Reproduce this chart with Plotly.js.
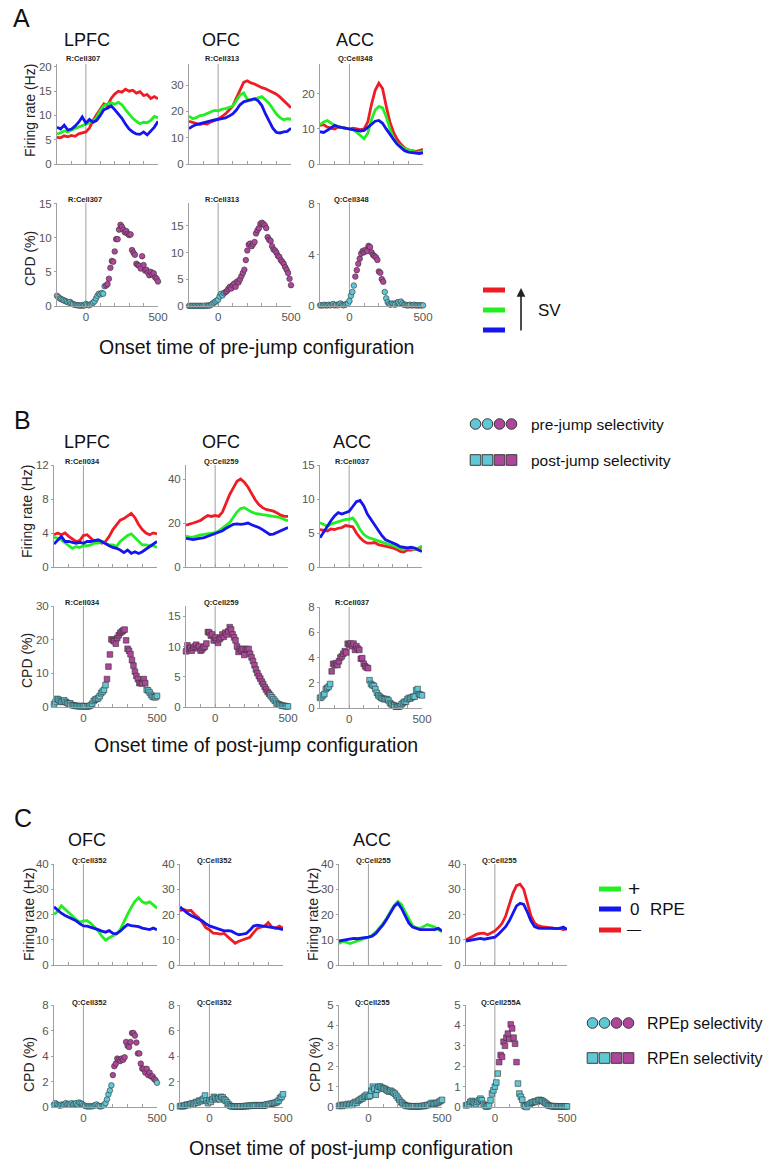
<!DOCTYPE html>
<html><head><meta charset="utf-8">
<script src="https://cdn.plot.ly/plotly-3.0.1.min.js"></script>
<style>html,body{margin:0;padding:0;background:#fff;}#chart{width:766px;height:1163px;}</style>
</head><body><div id="chart"></div>
<script>
// ---------------- DATA ----------------
const tFR = [-200,-175,-150,-125,-100,-75,-50,-25,0,25,50,75,100,125,150,175,200,225,250,275,300,325,350,375,400,425,450,475,500];
const tCPD = [-200,-190,-180,-170,-160,-150,-140,-130,-120,-110,-100,-90,-80,-70,-60,-50,-40,-30,-20,-10,0,10,20,30,40,50,60,70,80,90,100,110,120,130,140,150,160,170,180,190,200,210,220,230,240,250,260,270,280,290,300,310,320,330,340,350,360,370,380,390,400,410,420,430,440,450,460,470,480,490,500];
const xTickVals = [-200,-100,0,100,200,300,400,500];
const xTickText = ['','','0','','','','','500'];

// Panel A firing rates (Hz)
const A_LPFC_red   = [5.5,5.4,5.8,5.6,5.9,5.7,6.2,6.4,6.6,7.4,9.0,10.2,11.2,12.4,12.0,13.5,14.4,15.0,14.8,15.4,15.0,15.2,14.6,14.9,14.1,14.3,13.5,13.9,13.4];
const A_LPFC_green = [6.2,6.4,6.8,6.6,7.0,7.3,7.6,7.9,8.2,8.4,8.8,9.6,11.0,12.0,12.4,12.6,12.3,12.7,12.2,11.2,10.2,9.4,8.8,8.3,8.6,8.5,9.0,9.8,9.5];
const A_LPFC_blue  = [7.6,7.2,8.0,7.0,7.2,7.8,8.6,9.7,8.4,9.2,8.6,9.0,10.0,11.2,11.5,12.0,11.2,10.3,9.4,8.2,7.2,6.6,6.2,6.1,6.6,6.0,6.8,7.6,8.8];
const A_OFC_red    = [16.2,15.8,15.5,15.0,15.4,15.2,16.0,16.4,17.0,18.0,19.0,20.5,22.0,25.0,28.0,31.0,31.6,30.8,30.4,29.6,29.0,28.6,28.0,27.4,26.5,25.4,24.0,22.4,21.4];
const A_OFC_green  = [18.2,17.2,17.6,18.4,18.6,19.2,19.6,20.4,20.2,20.8,21.0,21.4,22.0,24.0,26.2,27.0,24.6,24.2,24.6,25.0,25.6,24.4,23.0,21.0,19.0,17.6,16.8,17.2,17.0];
const A_OFC_blue   = [13.4,14.4,15.0,15.4,15.6,16.2,16.6,16.8,17.0,17.2,17.5,18.2,19.0,20.5,22.5,23.6,24.0,24.4,24.8,24.0,22.2,19.0,16.0,13.6,12.0,11.8,12.2,12.4,13.6];
const A_ACC_red    = [11.0,11.2,10.5,10.2,10.0,10.6,10.4,10.0,10.0,10.2,10.0,9.8,10.0,12.0,17.0,21.0,23.0,21.5,16.5,12.0,9.0,7.0,5.6,4.6,4.0,3.8,3.6,3.8,4.2];
const A_ACC_green  = [11.2,12.0,12.4,11.6,11.0,10.6,10.4,10.2,10.0,9.8,9.0,8.2,7.2,8.8,12.6,15.4,16.4,16.0,13.5,10.0,7.2,5.8,5.0,4.4,4.0,3.6,3.4,3.4,3.6];
const A_ACC_blue   = [9.2,9.0,9.6,10.2,11.0,10.6,10.4,10.2,10.0,9.8,9.6,9.4,9.6,10.4,11.4,12.2,12.4,11.6,10.0,8.4,7.0,5.6,4.6,3.8,3.4,3.2,3.0,3.0,3.2];

// Panel B firing rates (Hz)
const B_LPFC_red   = [3.8,4.0,3.8,4.0,3.6,3.3,3.0,3.1,3.7,3.8,3.4,3.0,3.0,2.8,3.0,3.6,4.4,5.0,5.5,5.7,6.0,6.3,5.8,5.0,4.4,4.0,3.8,4.0,3.9];
const B_LPFC_green = [3.5,3.4,3.2,2.8,2.5,2.2,2.4,2.3,2.5,2.5,2.6,2.8,2.8,3.0,2.8,2.6,2.6,2.4,3.0,3.4,3.7,3.9,3.5,3.0,2.6,2.6,2.5,2.5,2.3];
const B_LPFC_blue  = [2.7,3.2,3.6,3.0,3.0,2.9,2.8,2.9,2.8,3.0,3.0,3.1,3.2,3.0,2.7,2.5,2.3,2.2,2.0,1.7,2.0,1.6,1.8,1.6,1.8,2.1,2.4,2.6,3.0];
const B_OFC_red    = [19.0,19.4,20.0,20.6,21.2,22.4,23.4,23.0,23.5,23.0,25.0,29.0,33.0,36.0,39.0,40.0,38.6,36.4,33.4,30.6,28.4,27.0,26.2,25.8,25.4,24.6,23.6,23.0,23.0];
const B_OFC_green  = [14.0,13.6,13.6,14.2,14.6,14.8,15.0,15.4,15.6,16.4,17.6,18.8,20.2,22.6,25.0,26.6,27.0,26.0,25.0,24.4,24.0,23.8,23.6,23.2,23.0,22.8,22.4,21.6,21.0];
const B_OFC_blue   = [13.0,12.6,12.5,12.8,13.0,13.4,14.0,14.6,15.0,15.6,16.5,17.6,18.6,19.4,19.6,19.4,19.6,20.0,19.2,18.6,18.0,17.0,16.0,14.8,15.0,15.8,16.6,17.4,18.0];
const B_ACC_red    = [5.5,5.4,5.3,5.6,5.5,5.7,5.8,6.1,6.0,5.9,5.0,4.3,3.8,3.5,3.5,3.6,3.3,3.2,3.0,2.9,2.8,2.6,2.3,2.2,2.5,2.5,2.6,2.7,3.0];
const B_ACC_green  = [6.5,6.2,6.0,6.3,6.5,6.6,6.8,7.0,7.0,7.2,6.5,5.5,4.8,4.4,4.2,4.0,3.8,3.6,3.5,3.3,3.2,2.9,2.7,2.6,2.8,2.7,2.6,2.8,3.1];
const B_ACC_blue   = [4.3,5.2,6.0,6.8,7.5,8.0,7.8,8.0,8.2,8.9,9.6,9.8,9.0,7.8,7.0,6.2,5.3,4.6,4.0,3.8,3.6,3.3,3.0,2.9,2.8,2.9,2.8,2.5,2.3];

// Panel C firing rates (Hz)
const C_OFC1_green = [20.0,21.2,23.5,22.0,20.5,19.4,18.0,17.0,17.5,17.6,16.5,15.2,13.5,11.4,9.8,10.8,11.5,12.2,14.0,17.2,20.0,22.8,25.2,26.6,25.0,24.4,25.0,23.8,22.5];
const C_OFC1_blue  = [23.0,21.6,20.5,19.6,19.0,18.2,17.5,16.4,15.5,15.4,15.0,14.4,14.0,13.4,13.0,13.6,12.5,12.4,13.4,14.8,16.0,15.6,15.4,15.2,14.6,14.2,14.0,14.6,14.0];
const C_OFC2_red   = [21.5,22.0,21.5,21.6,20.0,18.8,17.0,14.8,14.0,12.6,12.5,12.2,12.5,11.2,9.6,8.6,9.4,10.0,10.6,11.0,12.8,14.5,15.0,15.4,16.8,15.0,14.6,15.4,14.6];
const C_OFC2_blue  = [23.0,21.6,20.5,19.6,19.0,18.2,17.5,16.4,15.5,15.0,14.5,14.0,13.5,13.6,13.4,12.6,12.0,12.2,12.5,13.8,15.4,15.8,15.6,15.2,15.0,14.8,14.5,14.4,14.0];
const C_ACC1_green = [8.5,9.4,9.0,8.5,9.0,9.6,10.0,10.5,11.0,11.8,13.0,14.6,16.5,18.6,21.0,23.6,25.2,24.0,21.0,18.0,15.6,14.8,14.5,15.2,16.0,15.5,15.0,14.0,13.2];
const C_ACC1_blue  = [9.5,9.8,10.0,10.2,10.5,10.4,10.5,10.8,11.0,11.4,12.5,14.2,16.0,18.2,20.5,23.2,24.5,22.4,19.5,16.6,15.0,14.5,14.0,14.0,14.0,14.2,14.0,14.5,13.5];
const C_ACC2_red   = [10.0,10.8,11.5,12.2,12.5,12.6,12.0,12.6,13.5,14.8,16.5,19.4,24.0,28.4,31.4,32.0,30.0,25.0,19.5,16.6,15.6,15.2,15.0,15.0,14.6,14.4,14.6,14.0,14.5];
const C_ACC2_blue  = [9.5,9.8,10.0,10.4,10.5,10.2,10.5,10.6,11.0,12.2,13.5,15.2,17.5,20.4,23.4,24.4,24.0,21.0,17.5,15.2,14.6,14.5,14.4,14.5,14.6,14.4,14.5,15.0,14.0];

// CPD (%) series, 10 ms bins
const A_LPFC_cpd = [1.5,1.3,1.1,1.0,0.9,0.8,0.7,0.6,0.5,0.6, 0.4,0.3,0.2,0.15,0.1,0.1,0.05,0.1,0.05,0.1, 0.3,0.2,0.1,0.2,0.3,0.5,0.7,1.1,1.5,1.8, 1.7,1.9,1.8,2.9,3.0,3.2,4.0,5.6,6.6,6.5, 8.0,9.8,9.8,11.2,11.9,11.6,11.2,10.8,11.0,10.6, 10.4,10.5,8.2,7.8,7.5,6.2,6.0,5.9,5.5,7.3, 6.0,5.2,5.3,4.9,4.5,5.0,4.6,4.8,4.2,4.0, 3.6];
const A_OFC_cpd  = [0.02,0.03,0.02,0.02,0.03,0.02,0.02,0.03,0.02,0.02, 0.03,0.05,0.05,0.08,0.1,0.2,0.4,0.6,0.8,1.0, 1.2,1.8,2.3,2.0,2.4,2.6,2.8,3.2,3.6,3.3, 3.9,4.2,3.6,4.6,4.4,5.0,5.6,6.2,6.8,8.6, 10.4,11.5,11.7,11.2,11.6,12.0,13.6,14.2,14.6,15.4, 15.6,15.4,15.1,14.6,12.9,12.4,12.2,11.2,10.6,10.4, 10.0,9.4,9.2,8.6,8.3,7.9,7.3,6.8,6.2,5.1, 3.9];
const A_ACC_cpd  = [0.05,0.05,0.05,0.1,0.05,0.05,0.1,0.05,0.1,0.15, 0.05,0.1,0.05,0.15,0.2,0.1,0.05,0.1,0.15,0.2, 0.4,0.8,1.1,1.6,2.3,2.8,3.3,3.7,4.1,4.3, 4.2,4.4,4.3,4.7,4.6,4.2,4.0,3.9,3.8,3.6, 2.7,2.6,2.1,1.9,1.1,0.6,0.3,0.15,0.1,0.2, 0.15,0.1,0.25,0.3,0.2,0.35,0.2,0.1,0.1,0.05, 0.05,0.1,0.05,0.05,0.1,0.05,0.05,0.05,0.05,0.05, 0.05];
const B_LPFC_cpd = [0.8,1.5,2.4,2.2,1.8,1.5,1.6,2.0,1.5,1.2, 1.0,1.1,0.6,0.5,0.4,0.3,0.3,0.2,0.3,0.2, 0.3,0.2,0.1,0.2,0.3,0.5,1.0,1.8,2.2,2.4, 2.6,3.2,4.1,4.6,5.1,6.5,8.3,12.0,15.6,20.1, 19.8,19.5,18.8,20.5,21.3,22.0,22.4,22.7,23.0,19.8, 17.3,16.7,15.7,13.9,12.3,10.5,9.2,8.3,7.1,7.1, 7.0,8.3,7.1,5.1,4.9,4.3,3.6,3.1,2.9,2.9, 3.3];
const B_OFC_cpd  = [9.2,10.2,9.6,9.8,9.3,9.8,10.0,10.3,9.7,10.0, 9.3,9.5,9.8,10.0,10.5,12.4,12.3,11.8,12.0,11.0, 11.5,11.0,10.6,11.2,11.5,12.0,11.6,12.3,12.0,12.5, 13.2,12.8,12.0,11.5,11.0,10.0,9.1,9.6,9.3,9.6, 8.6,9.6,9.5,9.6,8.8,8.2,7.6,6.9,6.2,5.6, 5.1,4.7,4.2,3.8,3.3,2.9,2.5,2.2,1.9,1.6, 1.3,1.0,0.7,0.5,0.4,0.3,0.2,0.2,0.15,0.1, 0.1];
const B_ACC_cpd  = [0.8,0.85,1.0,1.1,1.5,1.6,1.7,1.9,2.9,3.5, 3.4,3.55,3.4,3.7,4.0,4.1,4.3,4.5,4.4,5.1, 5.0,5.1,4.9,5.1,4.6,4.9,4.7,4.6,3.9,3.95, 3.5,3.3,3.2,3.15,2.2,1.9,1.8,1.75,1.5,1.2, 1.0,0.9,0.8,0.75,0.7,0.7,0.7,0.6,0.4,0.3, 0.2,0.2,0.1,0.1,0.1,0.15,0.3,0.4,0.5,0.5, 0.7,0.8,0.75,0.85,0.9,0.9,1.4,1.5,1.1,1.05, 1.0];
const C_OFC1_cpd = [0.2,0.3,0.2,0.15,0.1,0.2,0.15,0.2,0.3,0.2, 0.25,0.2,0.3,0.2,0.25,0.3,0.2,0.35,0.3,0.25, 0.15,0.1,0.05,0.05,0.05,0.05,0.05,0.1,0.15,0.2, 0.1,0.05,0.05,0.1,0.15,0.3,0.6,1.0,1.3,1.7, 2.5,3.2,3.4,3.8,3.7,3.6,3.8,3.7,3.9,5.1, 4.8,4.7,5.1,5.8,5.8,5.6,5.05,4.2,4.2,3.4, 3.0,3.0,2.7,3.0,2.5,2.7,2.4,2.4,2.2,2.1, 1.9];
const C_OFC2_cpd = [0.05,0.1,0.05,0.1,0.15,0.2,0.15,0.2,0.3,0.2, 0.3,0.4,0.35,0.5,0.45,0.55,0.65,0.9,0.5,0.3, 0.5,0.4,0.6,0.8,0.7,0.6,0.7,0.6,0.8,0.75, 0.6,0.5,0.35,0.2,0.1,0.05,0.05,0.03,0.05,0.03, 0.05,0.03,0.05,0.05,0.08,0.05,0.1,0.08,0.1,0.12, 0.1,0.15,0.1,0.12,0.1,0.15,0.12,0.1,0.15,0.2, 0.2,0.25,0.25,0.3,0.3,0.35,0.4,0.5,0.7,0.8, 1.0];
const C_ACC1_cpd = [0.05,0.1,0.05,0.1,0.1,0.1,0.15,0.1,0.15,0.1, 0.2,0.25,0.2,0.3,0.35,0.4,0.42,0.5,0.55,0.6, 0.5,0.55,0.8,1.0,0.9,0.6,0.85,1.0,1.0,0.95, 0.9,0.9,0.85,0.8,0.75,0.8,0.75,0.7,0.65,0.55, 0.45,0.35,0.25,0.2,0.12,0.08,0.05,0.05,0.04,0.03, 0.03,0.04,0.03,0.03,0.04,0.03,0.05,0.05,0.05,0.08, 0.1,0.1,0.15,0.2,0.15,0.15,0.2,0.2,0.25,0.3, 0.35];
const C_ACC2_cpd = [0.08,0.1,0.13,0.25,0.3,0.25,0.2,0.13,0.25,0.33, 0.41,0.33,0.15,0.08,0.02,0.03,0.08,0.33,0.66,0.82, 1.0,1.2,1.64,2.2,2.55,2.46,3.2,3.0,3.4,3.6, 3.33,4.05,3.85,3.4,3.1,2.2,1.15,0.66,0.5,0.36, 0.08,0.03,0.0,0.1,0.13,0.2,0.22,0.25,0.28,0.25, 0.33,0.35,0.33,0.3,0.25,0.2,0.15,0.08,0.06,0.05, 0.03,0.03,0.04,0.03,0.03,0.03,0.03,0.02,0.03,0.02, 0.03];

// significant windows [start, end] in ms (null = none)
const A_LPFC_sig = [140, 500], A_OFC_sig = [50, 500], A_ACC_sig = [40, 230];
const B_LPFC_sig = [160, 420], B_OFC_sig = [-200, 370], B_ACC_sig = [-120, 130];
const C_OFC1_sig = [200, 490], C_OFC2_sig = null, C_ACC1_sig = null, C_ACC2_sig = [30, 150];

const cellLabels = ['R:Cell307','R:Cell313','Q:Cell348','R:Cell307','R:Cell313','Q:Cell348',
  'R:Cell034','Q:Cell259','R:Cell037','R:Cell034','Q:Cell259','R:Cell037',
  'Q:Cell352','Q:Cell352','Q:Cell255','Q:Cell255','Q:Cell352','Q:Cell352','Q:Cell255','Q:Cell255A'];

// ---------------- STYLE ----------------
const RED='#ee1d25', GREEN='#22ee22', BLUE='#1515ee';
const CYAN='#5fc7d6', MAG='#b0469c';
const FONT='Liberation Sans, Arial, sans-serif';
const W=766, H=1163;
const px = x => x/W, py = y => 1 - y/H;

// subplot geometry: [xl, xr, ytop, ybot, ymax, dtick, showXLabels, cellLabelX, cellLabelY]
const geo = [
  [57,158,64,164,20.6,5,false,83,59],
  [189,291,64,164,38,10,false,222,59],
  [320,423,64,164,28.5,10,false,355,59],
  [57,158,203,306,15.1,5,true,85,200],
  [189,291,203,306,19.3,5,true,222,200],
  [320,423,203,306,8.05,4,true,351,200],
  [54,157,465,567,12,4,false,82,461],
  [186,288,465,567,46.4,20,false,221,461],
  [320,422,465,567,15,5,false,352,461],
  [54,157,606,707,30,10,true,82,602],
  [186,288,606,707,16.7,5,true,221,602],
  [320,422,607,708,8,2,true,352,602],
  [54,157,864,965,40,10,false,89,860],
  [180,283,864,965,40,10,false,214,860],
  [339,442,864,965,40,10,false,373,860],
  [466,567,864,965,40,10,false,499,860],
  [54,157,1005,1107,8,2,true,89,1002],
  [180,283,1005,1107,8,2,true,214,1002],
  [339,442,1005,1107,5,1,true,372,1002],
  [466,567,1005,1107,5,1,true,501,1002]
];

const frSets = {
  0:[[A_LPFC_red,RED],[A_LPFC_green,GREEN],[A_LPFC_blue,BLUE]],
  1:[[A_OFC_red,RED],[A_OFC_green,GREEN],[A_OFC_blue,BLUE]],
  2:[[A_ACC_red,RED],[A_ACC_green,GREEN],[A_ACC_blue,BLUE]],
  6:[[B_LPFC_red,RED],[B_LPFC_green,GREEN],[B_LPFC_blue,BLUE]],
  7:[[B_OFC_red,RED],[B_OFC_green,GREEN],[B_OFC_blue,BLUE]],
  8:[[B_ACC_red,RED],[B_ACC_green,GREEN],[B_ACC_blue,BLUE]],
  12:[[C_OFC1_green,GREEN],[C_OFC1_blue,BLUE]],
  13:[[C_OFC2_red,RED],[C_OFC2_blue,BLUE]],
  14:[[C_ACC1_green,GREEN],[C_ACC1_blue,BLUE]],
  15:[[C_ACC2_red,RED],[C_ACC2_blue,BLUE]]
};
const cpdSets = {
  3:[A_LPFC_cpd,A_LPFC_sig,'circle'],
  4:[A_OFC_cpd,A_OFC_sig,'circle'],
  5:[A_ACC_cpd,A_ACC_sig,'circle'],
  9:[B_LPFC_cpd,B_LPFC_sig,'square'],
  10:[B_OFC_cpd,B_OFC_sig,'square'],
  11:[B_ACC_cpd,B_ACC_sig,'square'],
  16:[C_OFC1_cpd,C_OFC1_sig,'circle'],
  17:[C_OFC2_cpd,C_OFC2_sig,'square'],
  18:[C_ACC1_cpd,C_ACC1_sig,'square'],
  19:[C_ACC2_cpd,C_ACC2_sig,'square']
};

const traces = [];
const layout = {
  width: W, height: H, margin:{l:0,r:0,t:0,b:0},
  paper_bgcolor:'#fff', plot_bgcolor:'rgba(0,0,0,0)',
  showlegend:false, hovermode:false,
  font:{family:FONT, color:'#222'},
  shapes:[], annotations:[]
};

geo.forEach((g,i) => {
  const n = i===0 ? '' : String(i+1);
  const [xl,xr,yt,yb,ymax,dt,lab,cx,cy] = g;
  layout['xaxis'+n] = {
    domain:[px(xl),px(xr)], range:[-200,500], anchor:'y'+n,
    showline:true, linecolor:'#a0a0a0', linewidth:1,
    tickvals:xTickVals, ticktext: lab ? xTickText : xTickVals.map(()=> ''),
    ticks:'inside', ticklen:3, tickcolor:'#a0a0a0', tickwidth:1,
    tickfont:{size:11.5, color:'#555', family:FONT},
    showgrid:false, zeroline:false, fixedrange:true
  };
  layout['yaxis'+n] = {
    domain:[py(yb),py(yt)], range:[0,ymax], anchor:'x'+n,
    showline:true, linecolor:'#a0a0a0', linewidth:1,
    tick0:0, dtick:dt, ticks:'outside', ticklen:2, tickcolor:'#a0a0a0',
    tickfont:{size:11.5, color:'#555', family:FONT},
    showgrid:false, zeroline:false, fixedrange:true
  };
  layout.shapes.push({type:'line', xref:'x'+n, yref:'y'+n+' domain', x0:0, x1:0, y0:0, y1:1,
    line:{color:'#a0a0a0', width:1}, layer:'below'});
  layout.annotations.push({text:'<b>'+cellLabels[i]+'</b>', x:px(cx), y:py(cy), xref:'paper', yref:'paper',
    showarrow:false, xanchor:'center', yanchor:'middle', font:{size:7.5, color:'#222', family:FONT}});
  if (frSets[i]) {
    frSets[i].forEach(([y,c]) => traces.push({type:'scatter', mode:'lines', x:tFR, y:y,
      xaxis:'x'+n, yaxis:'y'+n, line:{color:c, width:2.8}, cliponaxis:false, hoverinfo:'skip'}));
  }
  if (cpdSets[i]) {
    const [y,sig,sym] = cpdSets[i];
    const cols = tCPD.map(t => (sig && t>=sig[0] && t<=sig[1]) ? MAG : CYAN);
    traces.push({type:'scatter', mode:'markers', x:tCPD, y:y, xaxis:'x'+n, yaxis:'y'+n,
      marker:{symbol:sym, size:5.6, color:cols, line:{color:'#333', width:0.6}},
      cliponaxis:false, hoverinfo:'skip'});
  }
});

function ann(text,x,y,size,o){
  layout.annotations.push(Object.assign({text:text, x:px(x), y:py(y), xref:'paper', yref:'paper',
    showarrow:false, xanchor:'center', yanchor:'middle', font:{size:size, color:'#111', family:FONT}}, o||{}));
}
// panel letters
ann('A',21,18,25); ann('B',22,420,25); ann('C',23,818,25);
// region titles
ann('LPFC',87,40,18); ann('OFC',221,40,18); ann('ACC',355,40,18);
ann('LPFC',87,442,18); ann('OFC',221,442,18); ann('ACC',352,442,18);
ann('OFC',87,840,18); ann('ACC',372,840,18);
// y titles
const yt = (t,x,y)=>ann(t,x,y,14,{textangle:-90, font:{size:14,color:'#222',family:FONT}});
yt('Firing rate (Hz)',30,111); yt('CPD (%)',30,259);
yt('Firing rate (Hz)',27,512); yt('CPD (%)',27,661);
yt('Firing rate (Hz)',29,915); yt('CPD (%)',29,1065);
yt('Firing rate (Hz)',313,915); yt('CPD (%)',315,1065);
// x titles
ann('Onset time of pre-jump configuration',256,347,19.5);
ann('Onset time of post-jump configuration',256,745,19.5);
ann('Onset time of post-jump configuration',351,1148,19.5);

// SV legend
[[RED,290],[GREEN,310],[BLUE,330]].forEach(([c,y]) => layout.shapes.push({type:'line', xref:'paper', yref:'paper',
  x0:px(483), x1:px(505), y0:py(y), y1:py(y), line:{color:c, width:5}}));
layout.annotations.push({text:'', x:px(521), y:py(288), xref:'paper', yref:'paper', showarrow:true,
  ax:0, ay:44, arrowhead:2, arrowsize:1.1, arrowwidth:1.6, arrowcolor:'#222'});
ann('SV',549,310,17);

// selectivity legends
function symRow(x0, y, sym){
  [CYAN,CYAN,MAG,MAG].forEach((c,k) => {
    const cx = x0 + k*12, r = 5.3;
    layout.shapes.push({type: sym==='circle' ? 'circle' : 'rect', xref:'paper', yref:'paper',
      x0:px(cx-r), x1:px(cx+r), y0:py(y+r), y1:py(y-r), fillcolor:c, line:{color:'#3a3a3a', width:1}});
  });
}
symRow(475.5,424,'circle'); ann('pre-jump selectivity',529,424,15.5,{xanchor:'left'});
symRow(475.5,460,'square'); ann('post-jump selectivity',529,460,15.5,{xanchor:'left'});
symRow(592.5,1023,'circle'); ann('RPEp selectivity',645,1023,16,{xanchor:'left'});
symRow(592.5,1058,'square'); ann('RPEn selectivity',645,1058,16,{xanchor:'left'});

// RPE legend
[[GREEN,889],[BLUE,909],[RED,930]].forEach(([c,y]) => layout.shapes.push({type:'line', xref:'paper', yref:'paper',
  x0:px(599), x1:px(621), y0:py(y), y1:py(y), line:{color:c, width:5}}));
ann('+',634,888,21,{font:{size:21,color:'#111',family:FONT}});
ann('0',634,909,17);
ann('—',634,929,14);
ann('RPE',667,909,17);

Plotly.newPlot('chart', traces, layout, {staticPlot:true, displayModeBar:false});
</script>
</body></html>
